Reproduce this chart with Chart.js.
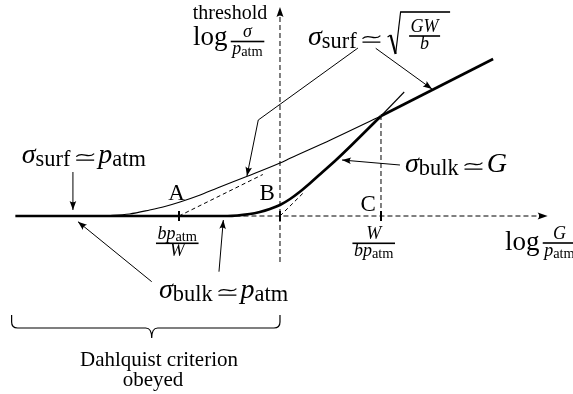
<!DOCTYPE html>
<html><head><meta charset="utf-8">
<script src="https://cdn.jsdelivr.net/npm/chart.js@4.4.1/dist/chart.umd.min.js"></script>
<style>html,body{margin:0;padding:0;background:#fff;overflow:hidden}canvas{display:block}</style>
</head><body>
<canvas id="c" width="573" height="394"></canvas>
<script>
// x: log(G/p_atm) with A = b p_atm / W at -1, B (G = p_atm) at 0, C = W / (b p_atm) at +1
// y: log(sigma/p_atm)
const tickPositions = [-1, 0, 1];
const tickLetters = ['A', 'B', 'C'];
// sigma_surf (thin curve)
const surfX = [-2.0, -1.83, -1.68, -1.49, -1.29, -1.14, -0.99, -0.79, -0.62, -0.33, 0.0, 0.10, 0.50, 1.0];
const surfY = [0, 0, 0.005, 0.02, 0.06, 0.095, 0.14, 0.21, 0.28, 0.395, 0.53, 0.577, 0.76, 1.0];
// sigma_surf ~ sqrt(G W / b) branch (thick)
const surfHighX = [1.0, 2.11];
const surfHighY = [1.0, 1.57];
// sigma_bulk (thick curve)
const bulkX = [-2.62, -0.52, -0.3, -0.2, -0.1, 0.0, 0.1, 0.2, 0.3, 0.4, 0.56, 0.7, 1.0];
const bulkY = [0, 0, 0.02, 0.04, 0.07, 0.11, 0.17, 0.245, 0.33, 0.42, 0.565, 0.7, 1.0];
// sigma_bulk ~ G continuation (thin)
const bulkHighX = [1.0, 1.23];
const bulkHighY = [1.0, 1.24];
// dashed asymptotes
const asymSurfX = [-1.0, -0.17];
const asymSurfY = [0, 0.415];
const asymBulkX = [0.0, 0.23];
const asymBulkY = [0, 0.23];
// axes extents (data units)
const axisXRange = [-0.52, 2.62];
const axisYRange = [-0.46, 2.03];

const pts = (xs, ys) => xs.map((x, i) => ({x, y: ys[i]}));
const ds = (xs, ys, w, dash, extra) => Object.assign({
  data: pts(xs, ys), showLine: true, borderColor: '#000', borderWidth: w,
  borderDash: dash || [], pointRadius: 0, fill: false, tension: 0
}, extra || {});

const datasets = [
  ds(axisXRange, [0, 0], 1, [5, 3]),
  ds([0, 0], axisYRange, 1, [5, 3]),
  ds([1, 1], [0, 1], 1, [5, 3]),
  ds(asymSurfX, asymSurfY, 1, [4, 3]),
  ds(asymBulkX, asymBulkY, 1, [4, 3]),
  ds(surfX, surfY, 1.1, null, {cubicInterpolationMode: 'monotone'}),
  ds(surfHighX, surfHighY, 2.7),
  ds(bulkX, bulkY, 2.7, null, {cubicInterpolationMode: 'monotone'}),
  ds(bulkHighX, bulkHighY, 1.1),
];
tickPositions.forEach(t => datasets.push(ds([t, t], [-0.05, 0.05], 2)));

const SERIF = '"Liberation Serif", "DejaVu Serif", serif';
const SUBR = 0.8;
function runFont(r, fs) {
  const size = r.sub ? fs * SUBR : fs;
  return (r.it ? 'italic ' : '') + size + 'px ' + SERIF;
}
function measure(ctx, runs, fs) {
  let w = 0;
  for (const r of runs) {
    if (r.sym === 'simeq') w += fs * 1.0;
    else { ctx.font = runFont(r, fs); w += ctx.measureText(r.t).width; }
  }
  return w;
}
function drawSimeq(ctx, x, y, w, fs) {
  const yBar = y - fs * 0.1, yT = y - fs * 0.28, a = fs * 0.055;
  ctx.save();
  ctx.lineWidth = Math.max(1, fs * 0.042); ctx.strokeStyle = '#000';
  ctx.beginPath();
  ctx.moveTo(x, yBar); ctx.lineTo(x + w, yBar);
  ctx.moveTo(x, yT + a);
  ctx.bezierCurveTo(x + w * 0.35, yT - a * 3, x + w * 0.65, yT + a * 3, x + w, yT - a);
  ctx.stroke();
  ctx.restore();
}
function drawRuns(ctx, runs, x, y, fs) {
  let cx = x;
  for (const r of runs) {
    if (r.sym === 'simeq') { drawSimeq(ctx, cx + fs * 0.21, y, fs * 0.64, fs); cx += fs * 1.0; }
    else {
      ctx.font = runFont(r, fs);
      ctx.fillText(r.t, cx, y + (r.sub ? fs * 0.1 : 0));
      cx += ctx.measureText(r.t).width;
    }
  }
  return cx;
}
function drawFrac(ctx, num, den, cx, barY, fs, pad) {
  const wn = measure(ctx, num, fs), wd = measure(ctx, den, fs);
  const w = Math.max(wn, wd) + pad * 2;
  ctx.fillRect(cx - w / 2, barY - 0.8, w, 1.6);
  drawRuns(ctx, num, cx - wn / 2, barY - fs * 0.25, fs);
  drawRuns(ctx, den, cx - wd / 2, barY + fs * 0.72, fs);
  return w;
}
function arrowHead(ctx, x0, y0, x1, y1, len, half) {
  const a = Math.atan2(y1 - y0, x1 - x0);
  ctx.save();
  ctx.translate(x1, y1); ctx.rotate(a);
  ctx.beginPath();
  ctx.moveTo(0, 0);
  ctx.lineTo(-len, -half);
  ctx.quadraticCurveTo(-len * 0.7, 0, -len, half);
  ctx.closePath();
  ctx.fill();
  ctx.restore();
}
function arrow(ctx, P, head) {
  ctx.beginPath();
  ctx.moveTo(P[0][0], P[0][1]);
  for (let i = 1; i < P.length; i++) ctx.lineTo(P[i][0], P[i][1]);
  ctx.stroke();
  const n = P.length;
  arrowHead(ctx, P[n - 2][0], P[n - 2][1], P[n - 1][0], P[n - 1][1], head || 9, 3.3);
}

const S = (t) => ({t});
const I = (t) => ({t, it: true});
const sub = (t) => ({t, sub: true});
const EQ = {sym: 'simeq'};

const overlay = {
  id: 'overlay',
  afterDatasetsDraw(chart) {
    const ctx = chart.ctx, xs = chart.scales.x, ys = chart.scales.y;
    const X = v => xs.getPixelForValue(v), Y = v => ys.getPixelForValue(v);
    const P = (x, y) => [X(x), Y(y)];
    ctx.save();
    ctx.fillStyle = '#000'; ctx.strokeStyle = '#000'; ctx.lineWidth = 1;
    ctx.textBaseline = 'alphabetic';

    // axis arrowheads
    arrowHead(ctx, X(2.4), Y(0), X(2.65), Y(0), 10, 3.5);
    arrowHead(ctx, X(0), Y(1.8), X(0), Y(2.09), 10, 3.5);

    // annotation arrows
    arrow(ctx, [P(-2.05, 0.44), P(-2.05, 0.06)]);
    arrow(ctx, [P(-1.27, -0.657), P(-2.0, -0.057)]);
    arrow(ctx, [P(-0.604, -0.557), P(-0.561, -0.04)]);
    arrow(ctx, [P(1.188, 0.51), P(0.614, 0.56)]);
    arrow(ctx, [P(0.772, 1.68), P(-0.215, 0.96), P(-0.327, 0.40)]);
    arrow(ctx, [P(0.948, 1.677), P(1.505, 1.27)]);

    // brace under "Dahlquist criterion obeyed"
    const xl = X(-2.657), xr = X(0), xt = X(-1.27);
    const yTop = Y(-0.99), ym = Y(-1.12), yTip = Y(-1.22), r = 6;
    ctx.lineWidth = 1.2;
    ctx.beginPath();
    ctx.moveTo(xl, yTop);
    ctx.lineTo(xl, ym - r);
    ctx.quadraticCurveTo(xl, ym, xl + r, ym);
    ctx.lineTo(xt - r, ym);
    ctx.quadraticCurveTo(xt, ym, xt, yTip);
    ctx.quadraticCurveTo(xt, ym, xt + r, ym);
    ctx.lineTo(xr - r, ym);
    ctx.quadraticCurveTo(xr, ym, xr, ym - r);
    ctx.lineTo(xr, yTop);
    ctx.stroke();
    ctx.lineWidth = 1;

    const BIG = 28, FR = 18, TXT = 21, LET = 23;

    // vertical axis title
    ctx.font = '20px ' + SERIF;
    ctx.textAlign = 'center';
    ctx.fillText('threshold', X(-0.495), Y(1.97));
    ctx.textAlign = 'left';
    let e = drawRuns(ctx, [S('log')], X(-0.861), Y(1.71), 27);
    drawFrac(ctx, [I('σ')], [I('p'), sub('atm')], e + 20, Y(1.71) - 3.5, FR, 1.5);

    // sigma_surf ~ sqrt(GW/b)
    e = drawRuns(ctx, [I('σ'), sub('surf'), EQ], X(0.277), Y(1.71), BIG);
    {
      const x0 = e + 3, yb = Y(1.71) + 9, ytop = Y(1.71) - 33;
      ctx.lineWidth = 1.2;
      ctx.beginPath();
      ctx.moveTo(x0, Y(1.71) - 8);
      ctx.lineTo(x0 + 3, Y(1.71) - 10);
      ctx.stroke();
      ctx.lineWidth = 2.2;
      ctx.beginPath();
      ctx.moveTo(x0 + 3, Y(1.71) - 10);
      ctx.lineTo(x0 + 8, yb);
      ctx.stroke();
      ctx.lineWidth = 1.2;
      ctx.beginPath();
      ctx.moveTo(x0 + 8, yb);
      ctx.lineTo(x0 + 13, ytop);
      ctx.stroke();
      ctx.fillRect(x0 + 12.5, ytop - 0.8, 50, 1.6);
      drawFrac(ctx, [I('G'), I('W')], [I('b')], x0 + 37, Y(1.71) - 9, FR, 1.5);
    }

    drawRuns(ctx, [I('σ'), sub('surf'), EQ, I('p'), sub('atm')], X(-2.557), Y(0.53), BIG);
    drawRuns(ctx, [I('σ'), sub('bulk'), EQ, I('G')], X(1.238), Y(0.44), BIG);
    drawRuns(ctx, [I('σ'), sub('bulk'), EQ, I('p'), sub('atm')], X(-1.198), Y(-0.82), BIG);

    // letters A, B, C
    ctx.font = LET + 'px ' + SERIF;
    ctx.textAlign = 'center';
    ctx.fillText(tickLetters[0], X(-1.023), Y(0.16));
    ctx.fillText(tickLetters[1], X(-0.126), Y(0.16));
    ctx.fillText(tickLetters[2], X(0.874), Y(0.053));
    ctx.textAlign = 'left';

    // tick value labels
    drawFrac(ctx, [I('b'), I('p'), sub('atm')], [I('W')], X(-1.017), Y(-0.273), FR, 1.5);
    drawFrac(ctx, [I('W')], [I('b'), I('p'), sub('atm')], X(0.928), Y(-0.273), FR, 1.5);

    // horizontal axis title
    e = drawRuns(ctx, [S('log')], X(2.228), Y(-0.34), 27);
    drawFrac(ctx, [I('G')], [I('p'), sub('atm')], e + 20, Y(-0.34) - 7, FR, 1.5);

    // Dahlquist label
    ctx.font = TXT + 'px ' + SERIF;
    ctx.textAlign = 'center';
    ctx.fillText('Dahlquist criterion', X(-1.198), Y(-1.5));
    ctx.fillText('obeyed', X(-1.257), Y(-1.7));
    ctx.restore();
  }
};

new Chart(document.getElementById('c'), {
  type: 'scatter',
  data: {datasets},
  options: {
    responsive: false, animation: false, devicePixelRatio: 1,
    layout: {padding: 0},
    plugins: {legend: {display: false}, tooltip: {enabled: false}},
    events: [],
    scales: {
      x: {type: 'linear', min: -2.772, max: 2.901, display: false},
      y: {type: 'linear', min: -1.78, max: 2.16, display: false}
    }
  },
  plugins: [overlay]
});
</script>
</body></html>
